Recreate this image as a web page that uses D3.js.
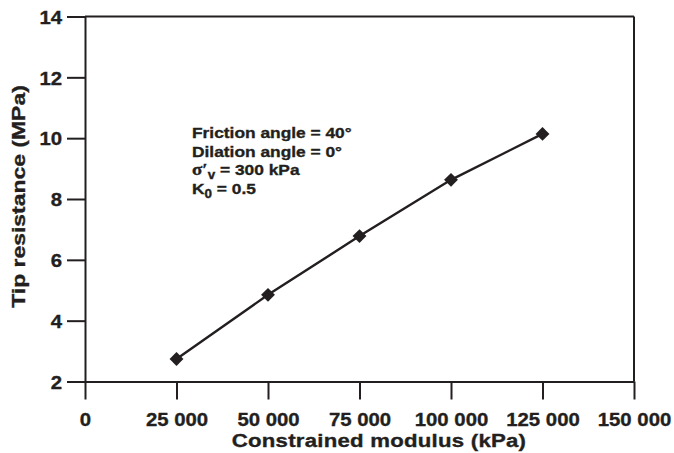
<!DOCTYPE html>
<html>
<head>
<meta charset="utf-8">
<script src="https://cdn.jsdelivr.net/npm/d3@7"></script>
<style>
  html, body { margin: 0; padding: 0; background: #fff; }
  svg { display: block; }
  text { font-family: "Liberation Sans", Arial, sans-serif; font-weight: bold; fill: #231f20;
         stroke: #231f20; stroke-width: 0.35px; }
</style>
</head>
<body>
<svg id="chart" width="674" height="453"></svg>
<script>
// Tip resistance against constrained modulus
const modulus = [25000, 50000, 75000, 100000, 125000];
const tipResistance = [2.74, 4.85, 6.78, 8.63, 10.14];

const xTicks = [0, 25000, 50000, 75000, 100000, 125000, 150000];
const yTicks = [2, 4, 6, 8, 10, 12, 14];

const xTitle = "Constrained modulus (kPa)";
const yTitle = "Tip resistance (MPa)";

const ink = "#231f20";
const svg = d3.select("#chart");

const x = d3.scaleLinear().domain([0, 150000]).range([85, 634]);
const y = d3.scaleLinear().domain([2, 14]).range([381.5, 16.5]);

const fmt = v => d3.format(",")(v).replace(/,/g, " ");

// wide bold lettering: glyphs stretched along the reading direction
const tickScale = 1.1;

// Axes: ticks point outward, 18px long
const xAxis = svg.append("g")
  .attr("transform", `translate(0,${y(2)})`)
  .call(d3.axisBottom(x).tickValues(xTicks).tickFormat(fmt).tickSize(18).tickSizeOuter(0).tickPadding(13));

const yAxis = svg.append("g")
  .attr("transform", `translate(${x(0)},0)`)
  .call(d3.axisLeft(y).tickValues(yTicks).tickFormat(d3.format("d")).tickSize(18).tickSizeOuter(0).tickPadding(5));

[xAxis, yAxis].forEach(g => {
  g.attr("font-size", null).attr("font-family", null);
  g.selectAll("path.domain, line").attr("stroke", ink).attr("stroke-width", 2);
  g.selectAll("text")
    .attr("fill", ink)
    .attr("transform", `scale(${tickScale},1)`)
    .style("font-size", "18.5px");
});
yAxis.selectAll("text").attr("dy", "0.36em").attr("x", -23 / tickScale);

// Frame: top and right edges
svg.append("line")
  .attr("x1", x(0)).attr("x2", x(150000))
  .attr("y1", y(14)).attr("y2", y(14))
  .attr("stroke", ink).attr("stroke-width", 2);
svg.append("line")
  .attr("x1", x(150000)).attr("x2", x(150000))
  .attr("y1", y(14)).attr("y2", y(2))
  .attr("stroke", ink).attr("stroke-width", 2);

// Axis titles
svg.append("text")
  .attr("transform", "translate(379,447) scale(1.2,1)")
  .attr("text-anchor", "middle")
  .style("font-size", "18.5px")
  .style("letter-spacing", "0.2px")
  .text(xTitle);

svg.append("text")
  .attr("transform", "translate(25,196.5) rotate(-90) scale(1.24,1)")
  .attr("text-anchor", "middle")
  .style("font-size", "18.5px")
  .text(yTitle);

// Data line and diamond markers
const pts = modulus.map((m, i) => [m, tipResistance[i]]);
svg.append("path")
  .datum(pts)
  .attr("fill", "none")
  .attr("stroke", ink)
  .attr("stroke-width", 2.4)
  .attr("d", d3.line().x(d => x(d[0])).y(d => y(d[1])));

svg.selectAll("path.marker")
  .data(pts)
  .enter().append("path")
  .attr("class", "marker")
  .attr("d", d3.symbol().type(d3.symbolSquare).size(96))
  .attr("transform", d => `translate(${x(d[0])},${y(d[1])}) rotate(45)`)
  .attr("fill", ink);

// Simulation parameters
const note = svg.append("g")
  .attr("transform", "translate(192,0) scale(1.12,1)")
  .style("font-size", "15.5px");

note.append("text").attr("y", 138.5).text("Friction angle = 40°");
note.append("text").attr("y", 157).text("Dilation angle = 0°");

const s = note.append("text").attr("y", 175.5);
s.append("tspan").style("font-family", "'Liberation Serif', 'Times New Roman', serif").style("font-size", "17px").text("σ′");
s.append("tspan").attr("dy", 4).style("font-size", "12px").text("v");
s.append("tspan").attr("dy", -4).text(" = 300 kPa");

const k = note.append("text").attr("y", 194);
k.append("tspan").text("K");
k.append("tspan").attr("dy", 4).style("font-size", "12px").text("0");
k.append("tspan").attr("dy", -4).text(" = 0.5");
</script>
</body>
</html>
